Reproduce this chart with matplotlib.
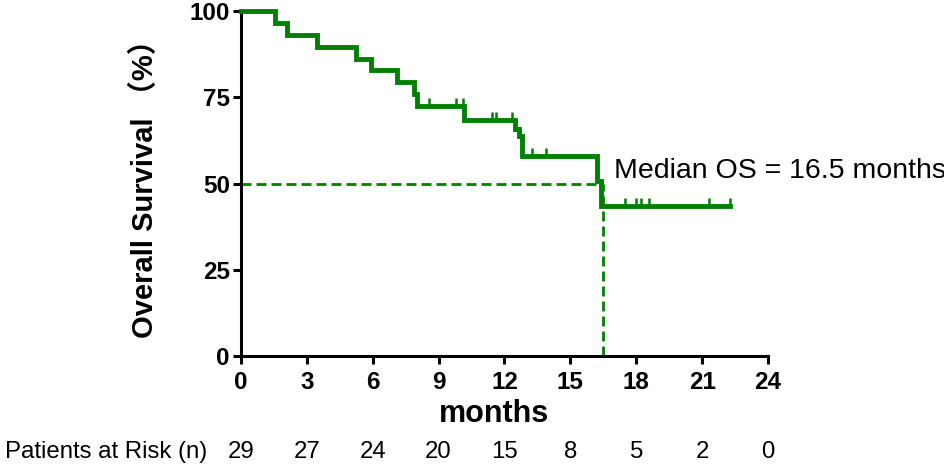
import numpy as np
import matplotlib
matplotlib.use('Agg')
import matplotlib.pyplot as plt

# Kaplan-Meier curve
event_months = [0, 1.55, 2.08, 3.48, 5.24, 5.92, 7.12, 7.9, 8.0, 10.17,
                12.5, 12.65, 12.8, 16.2, 16.4]
survival = [100, 96.6, 93.1, 89.7, 86.2, 82.8, 79.3, 75.9, 72.4, 68.4,
            65.8, 63.9, 57.9, 50.7, 43.4]
last_month = 22.27
censor_months = [8.58, 9.79, 10.1, 11.45, 11.6, 12.35, 13.27, 13.9,
                 17.49, 18.0, 18.2, 18.6, 21.3, 22.27]

risk_months = [0, 3, 6, 9, 12, 15, 18, 21, 24]
at_risk = [29, 27, 24, 20, 15, 8, 5, 2, 0]
median_os = 16.5

green = '#008000'
font = 'Liberation Sans'
plt.rcParams['font.family'] = [font, 'Noto Sans CJK SC', 'DejaVu Sans']

fig = plt.figure(figsize=(9.45, 4.68), dpi=100)
ax = fig.add_axes([0.255, 0.2393, 0.5577, 0.7372])

xs = event_months + [last_month]
ys = survival + [survival[-1]]
ax.step(xs, ys, where='post', color=green, lw=3.5, clip_on=False, zorder=3,
        solid_joinstyle='miter')

# censor ticks sit on the curve, pointing up
idx = np.searchsorted(event_months, censor_months, side='right') - 1
cs = np.array(survival)[idx]
ax.vlines(censor_months, cs, cs + 2.4, color=green, lw=1.8, zorder=3, clip_on=False)

# median lines
ax.plot([0, median_os], [50, 50], color=green, lw=2, dashes=(3.6, 1.8), clip_on=False)
ax.plot([median_os, median_os], [0, 50], color=green, lw=2, dashes=(3.6, 1.8), clip_on=False)
ax.text(17.0, 53.5, 'Median OS = %s months' % median_os, fontsize=20.5,
        va='center', ha='left', family=font)

ax.set_xlim(0, 24)
ax.set_ylim(0, 100)
ax.set_xticks(risk_months)
ax.set_yticks([0, 25, 50, 75, 100])
for s in ['top', 'right']:
    ax.spines[s].set_visible(False)
for s in ['left', 'bottom']:
    ax.spines[s].set_linewidth(2.2)
ax.tick_params(width=2.2, length=6, labelsize=17.5)
ax.tick_params(axis='x', pad=5)
ax.tick_params(axis='y', pad=2)
for lab in ax.get_xticklabels() + ax.get_yticklabels():
    lab.set_fontweight('bold')

ax.set_xlabel('months', fontsize=22, fontweight='bold')
ax.set_ylabel('Overall Survival （%）', fontsize=21, fontweight='bold')
ax.yaxis.set_label_coords(-0.155, 0.505)
ax.xaxis.set_label_coords(0.48, -0.125)

# patients at risk row
fig.text(5 / 945, 1 - 452 / 468, 'Patients at Risk (n)', fontsize=17.3,
         va='center', ha='left')
for m, n in zip(risk_months, at_risk):
    ax.text(m, -(452 - 356) / 345, str(n), transform=ax.get_xaxis_transform(),
            fontsize=17.3, ha='center', va='center')

fig.savefig('out.png', dpi=100)
